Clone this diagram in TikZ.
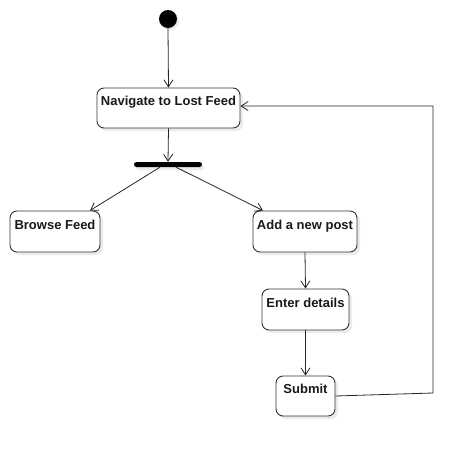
\documentclass[tikz,border=0pt]{standalone}
\usepackage{fontspec}
\setmainfont{Liberation Sans}
\usetikzlibrary{arrows.meta,shadows}
\begin{document}
\begin{tikzpicture}[x=1pt,y=-1pt,
  actbox/.style={draw=black!80, line width=0.9pt, rounded corners=7pt, fill=white,
    drop shadow={shadow xshift=3pt, shadow yshift=-3pt, fill=black!8, opacity=1},
    font=\fontsize{13}{15}\selectfont\bfseries, inner xsep=2pt, inner ysep=0pt,
    text height=17.5pt, text depth=22.5pt, text=black!90},
  flow/.style={draw=black!85, line width=0.8pt, -{Straight Barb[length=7pt,width=9pt,line width=0.8pt]}}]
\useasboundingbox (0,0) rectangle (475,456);
\node[circle, fill=black, minimum size=18pt, inner sep=0pt,
  drop shadow={shadow xshift=2pt, shadow yshift=-2pt, fill=black!8, opacity=1}] (init) at (168,19) {};
\node[actbox, minimum width=143pt, minimum height=40pt] (nav) at (168.5,108) {Navigate to Lost Feed};
\node[rectangle, fill=black, minimum width=68pt, minimum height=5pt, inner sep=0pt, rounded corners=2.5pt,
  drop shadow={shadow xshift=2pt, shadow yshift=-3pt, fill=black!8, opacity=1}] (fork) at (168,164.5) {};
\node[actbox, minimum width=90pt, minimum height=41pt] (browse) at (55,231.5) {Browse Feed};
\node[actbox, minimum width=104pt, minimum height=41pt] (add) at (305,231.5) {Add a new post};
\node[actbox, minimum width=87pt, minimum height=41pt] (enter) at (305.5,309.5) {Enter details};
\node[actbox, minimum width=59pt, minimum height=40pt] (submit) at (305.5,396) {Submit};
\coordinate (c1) at (433,393);
\coordinate (c2) at (433,106);
\draw[flow] (init.south) -- (nav.north);
\draw[flow] (nav.south) -- (fork.north);
\draw[flow] ([xshift=-8pt]fork.south) -- ([xshift=35pt]browse.north);
\draw[flow] ([xshift=8pt]fork.south) -- ([xshift=-42pt]add.north);
\draw[flow] (add.south) -- (enter.north);
\draw[flow] (enter.south) -- (submit.north);
\draw[flow] (submit.east) -- (c1) -- (c2) -- (nav.east |- c2);
\end{tikzpicture}
\end{document}
